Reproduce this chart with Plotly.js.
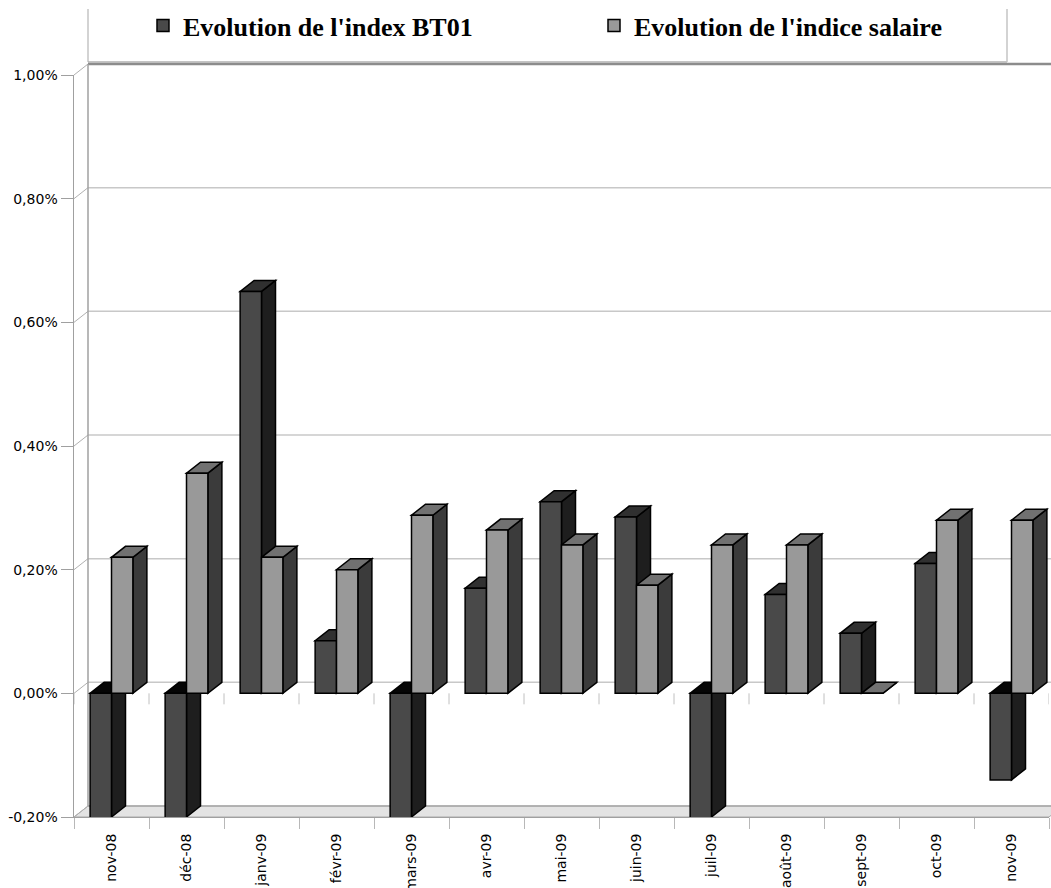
<!DOCTYPE html>
<html><head><meta charset="utf-8">
<script src="https://cdn.plot.ly/plotly-3.0.1.min.js"></script>
<style>html,body{margin:0;padding:0;background:#fff}#chart{width:1051px;height:888px}</style>
</head><body><div id="chart"></div>
<script>
// ---- data ----
const categories = ['nov-08','déc-08','janv-09','févr-09','mars-09','avr-09','mai-09','juin-09','juil-09','août-09','sept-09','oct-09','nov-09'];
const seriesNames = ["Evolution de l'index BT01", "Evolution de l'indice salaire"];
const bt01 = [-0.30, -0.50, 0.65, 0.085, -0.30, 0.17, 0.31, 0.285, -0.25, 0.16, 0.097, 0.21, -0.14];
const salaire = [0.22, 0.356, 0.22, 0.20, 0.288, 0.264, 0.24, 0.175, 0.24, 0.24, 0.0, 0.28, 0.28];
const tickVals = [-0.2, 0, 0.2, 0.4, 0.6, 0.8, 1.0];
const tickLabels = ['-0,20%','0,00%','0,20%','0,40%','0,60%','0,80%','1,00%'];

// ---- geometry / style ----
const W = 1051, H = 888, L = 74, R = 2, T = 75, B = 71;
const plotW = W - L - R, plotH = H - T - B;
const yMin = -0.2, yMax = 1.0;
const DEPTH_X = 14, DEPTH_Y = 11;
const nCat = categories.length;
const pxPerCat = plotW / nCat;
const pxPerUnit = plotH / (yMax - yMin);
const dxD = DEPTH_X / pxPerCat, dyD = DEPTH_Y / pxPerUnit;
const dxP = DEPTH_X / plotW, dyP = DEPTH_Y / plotH;
const pX = p => (p - L) / plotW;          // pixel -> paper x
const pY = p => (T + plotH - p) / plotH;  // pixel -> paper y
const vY = v => (v - yMin) / (yMax - yMin); // value -> paper y
const bargap = 0.43, hw = (1 - bargap) / 2;

const styles = [
  {front:'#494949', side:'#1e1e1e', top:'#303030', topNeg:'#050505'},
  {front:'#999999', side:'#3b3b3b', top:'#717171', topNeg:'#050505'}
];

const shapes = [];
function line(x0,y0,x1,y1,color,width,xref,yref){
  shapes.push({type:'line', layer:'below', xref:xref||'paper', yref:yref||'paper', x0,y0,x1,y1, line:{color, width}});
}
// floor
shapes.push({type:'path', layer:'below', xref:'paper', yref:'paper',
  path:`M0,${vY(yMin)} L1,${vY(yMin)} L${1+dxP},${vY(yMin)+dyP} L${dxP},${vY(yMin)+dyP} Z`,
  fillcolor:'#e3e3e3', line:{color:'#a8a8a8', width:1}});
// back wall grid + left wall diagonals
tickVals.forEach(v => {
  const top = v === yMax;
  line(dxP, vY(v)+dyP, 1+dxP+0.05, vY(v)+dyP, top ? '#8c8c8c' : (v===yMin ? '#a8a8a8' : '#c8c8c8'), top ? 2.5 : 1.5);
  line(0, vY(v), dxP, vY(v)+dyP, '#b0b0b0', 1);
});
// back left vertical
line(dxP, vY(yMin)+dyP, dxP, vY(yMax)+dyP, '#a0a0a0', 1.5);
// legend frame
line(pX(88), pY(9), pX(88), pY(62), '#c4c4c4', 1.5);
line(pX(88), pY(62), pX(1007), pY(62), '#b0b0b0', 1.5);
line(pX(1007), pY(9), pX(1007), pY(62), '#c4c4c4', 1.5);
// category ticks at the zero level
for (let k = 0; k <= nCat; k++) line(k-0.5, 0, k-0.5, -dyD, '#c0c0c0', 1, 'x', 'y');

// 3D faces of bars
[bt01, salaire].forEach((vals, s) => {
  vals.forEach((v, i) => {
    const left = i - hw + s*hw, right = left + hw;
    const top = Math.max(v, 0), bot = Math.max(Math.min(v, 0), yMin);
    const st = styles[s];
    shapes.push({type:'path', layer:'below', xref:'x', yref:'y',
      path:`M${right},${bot} L${right},${top} L${right+dxD},${top+dyD} L${right+dxD},${bot+dyD} Z`,
      fillcolor:st.side, line:{color:'#000', width:1.5}});
    shapes.push({type:'path', layer:'below', xref:'x', yref:'y',
      path:`M${left},${top} L${right},${top} L${right+dxD},${top+dyD} L${left+dxD},${top+dyD} Z`,
      fillcolor: v < 0 ? st.topNeg : st.top, line:{color:'#000', width:1.5}});
  });
});

const traces = [bt01, salaire].map((vals, s) => ({
  type:'bar', name: seriesNames[s], x: categories, y: vals,
  marker:{color: styles[s].front, line:{color:'#000', width:1.5}},
  hoverinfo:'x+y'
}));

const tickFont = {family:'DejaVu Sans', size:14, color:'#000'};
const layout = {
  width: W, height: H,
  margin:{l:L, r:R, t:T, b:B, pad:0},
  paper_bgcolor:'#fff', plot_bgcolor:'rgba(0,0,0,0)',
  barmode:'group', bargap: bargap, bargroupgap: 0,
  showlegend:true,
  legend:{orientation:'h', x:pX(143), xanchor:'left', y:pY(2), yanchor:'top',
    font:{family:'Liberation Serif', size:26, color:'#000', weight:'bold'},
    bgcolor:'rgba(0,0,0,0)', borderwidth:0, entrywidth:406, entrywidthmode:'pixels', traceorder:'normal'},
  xaxis:{type:'category', categoryorder:'array', categoryarray:categories, range:[-0.5, nCat-0.5],
    tickangle:-90, ticks:'outside', tickson:'boundaries', ticklen:11, tickcolor:'#b8b8b8', tickwidth:1,
    ticklabelstandoff:10,
    showline:true, linecolor:'#a0a0a0', linewidth:1, showgrid:false, zeroline:false, tickfont:tickFont, fixedrange:true},
  yaxis:{range:[yMin, yMax], tickmode:'array', tickvals:tickVals, ticktext:tickLabels,
    ticks:'outside', ticklen:12, tickcolor:'#a0a0a0', tickwidth:1,
    showline:true, linecolor:'#a0a0a0', linewidth:1.5, showgrid:false, zeroline:false, tickfont:tickFont, fixedrange:true},
  shapes: shapes
};
Plotly.newPlot('chart', traces, layout, {displayModeBar:false, staticPlot:true});
</script></body></html>
